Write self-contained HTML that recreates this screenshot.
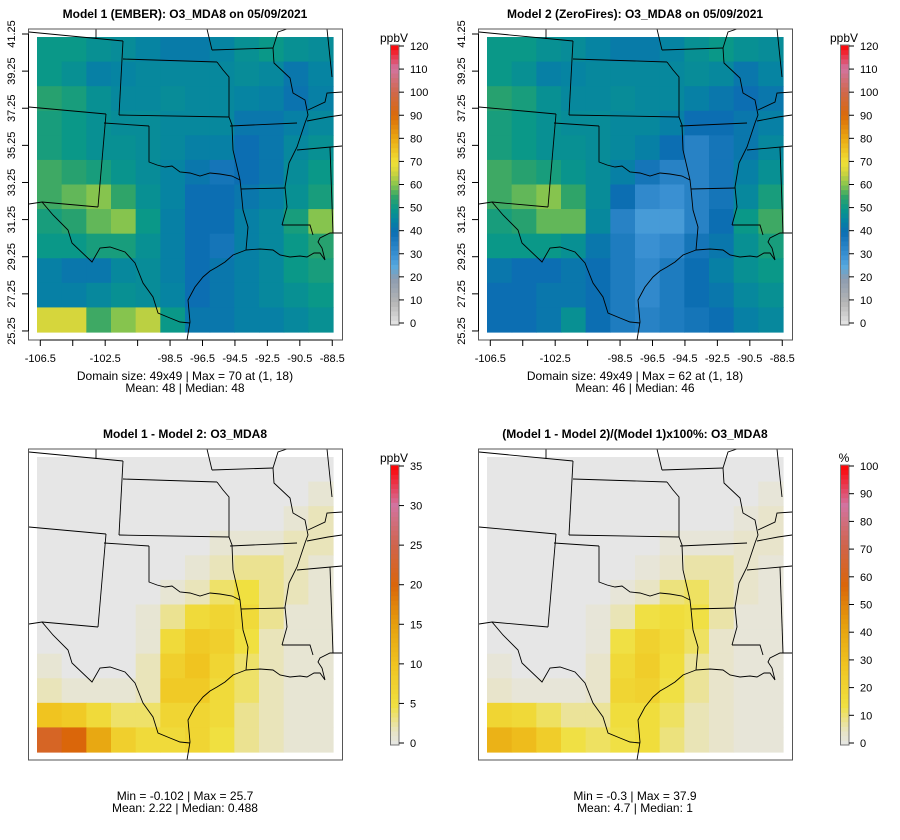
<!DOCTYPE html>
<html><head><meta charset="utf-8">
<style>
html,body{margin:0;padding:0;background:#fff;}
svg{display:block;font-family:"Liberation Sans",sans-serif;}
</style></head>
<body>
<svg id="chart" width="900" height="840" viewBox="0 0 900 840"></svg>
<script>
// ---- data (12x12 coarse grids, rows north->south, cols west->east) ----
const lonTicks = [-106.5,-104.5,-102.5,-100.5,-98.5,-96.5,-94.5,-92.5,-90.5,-88.5];
const lonLabels = ["-106.5","","-102.5","","-98.5","-96.5","-94.5","-92.5","-90.5","-88.5"];
const latTicks = [41.25,39.25,37.25,35.25,33.25,31.25,29.25,27.25,25.25];
const ppbTicks = [0,10,20,30,40,50,60,70,80,90,100,110,120];
const diffTicks = [0,5,10,15,20,25,30,35];
const pctTicks = [0,10,20,30,40,50,60,70,80,90,100];
const model1 = [
[50,50,48,47,45,43,43,45,48,50,48,47],
[50,48,44,45,46,46,46,46,47,46,42,45],
[54,52,48,46,46,47,46,46,45,44,41,44],
[52,50,48,47,47,46,46,46,42,42,44,46],
[52,50,48,48,47,46,44,44,40,42,46,48],
[56,54,52,49,47,45,42,38,40,42,47,50],
[56,58,60,55,48,45,40,40,42,44,48,52],
[52,54,58,60,50,44,40,40,44,46,52,60],
[50,50,52,52,48,44,40,38,44,46,50,54],
[44,42,42,46,47,44,40,42,44,46,50,52],
[44,44,46,48,47,45,40,42,44,46,48,50],
[66,66,56,60,64,50,42,42,44,44,46,48]];
const model2 = [
[50,50,48,47,45,43,43,45,48,50,48,47],
[50,48,44,45,46,46,46,46,47,46,42,45],
[54,52,48,46,46,47,46,46,44,42,40,42],
[52,50,48,47,47,46,46,44,40,40,42,44],
[52,50,48,48,47,46,44,40,34,38,42,46],
[56,54,52,49,47,44,38,34,34,38,44,48],
[56,58,60,55,47,40,32,30,34,38,46,52],
[52,54,58,58,46,34,28,28,34,40,50,56],
[50,50,50,48,42,36,30,32,38,42,48,52],
[42,40,40,42,40,36,32,36,40,44,48,50],
[40,40,42,42,40,36,32,36,40,42,46,48],
[40,40,42,48,40,36,34,36,38,40,44,46]];
const diffAbs = [
[0,0,0,0,0,0,0,0,0,0,0,0],
[0,0,0,0,0,0,0,0,0,0,0,1],
[0,0,0,0,0,0,0,0,0,0,1,2],
[0,0,0,0,0,0,0,1,1,1,2,2],
[0,0,0,0,0,0,1,2,3,3,2,1],
[0,0,0,0,0,1,2,4,5,3,2,1],
[0,0,0,0,1,3,6,7,6,3,1,1],
[0,0,0,0,1,6,9,8,5,2,1,1],
[1,0,0,0,2,8,10,7,4,2,1,1],
[2,1,1,1,2,9,9,6,4,2,1,1],
[10,9,6,4,4,7,7,6,3,2,1,1],
[22,20,14,8,6,6,7,5,3,2,1,1]];
const diffPct = [
[0,0,0,0,0,0,0,0,0,0,0,0],
[0,0,0,0,0,0,0,0,0,0,0,2],
[0,0,0,0,0,0,0,0,0,0,2,4],
[0,0,0,0,0,0,0,2,2,2,4,4],
[0,0,0,0,0,0,2,4,7,7,4,2],
[0,0,0,0,0,2,5,10,12,7,4,2],
[0,0,0,0,2,6,14,16,14,7,2,2],
[0,0,0,0,2,14,22,18,12,4,2,2],
[2,0,0,0,4,18,24,16,8,4,2,2],
[4,2,2,2,4,20,22,14,8,4,2,2],
[20,18,12,8,8,16,16,12,6,4,2,2],
[36,32,24,14,12,14,16,10,6,4,2,2]];

// ---- helpers ----
const NS="http://www.w3.org/2000/svg";
const svg=document.getElementById('chart');
function mk(tag,attrs,parent){const e=document.createElementNS(NS,tag);for(const k in attrs)e.setAttribute(k,attrs[k]);(parent||svg).appendChild(e);return e;}
function hex(h){return [parseInt(h.slice(1,3),16),parseInt(h.slice(3,5),16),parseInt(h.slice(5,7),16)];}
function ramp(stops){return function(t){t=Math.max(0,Math.min(1,t));for(let i=1;i<stops.length;i++){if(t<=stops[i][0]){const a=stops[i-1],b=stops[i];const f=(t-a[0])/(b[0]-a[0]);const ca=hex(a[1]),cb=hex(b[1]);return 'rgb('+ca.map((v,j)=>Math.round(v+(cb[j]-v)*f)).join(',')+')';}}return stops[stops.length-1][1];};}
const ppbRamp=ramp([[0,'#e6e6e6'],[0.083,'#b4b4b4'],[0.167,'#8c9cb0'],[0.21,'#58aade'],[0.25,'#3a90d2'],[0.333,'#0c6eb2'],[0.375,'#0684a2'],[0.417,'#0a9888'],[0.46,'#30a468'],[0.5,'#86c44e'],[0.55,'#d6d63c'],[0.583,'#f0e036'],[0.667,'#eaa812'],[0.75,'#da6a0a'],[0.833,'#d0684c'],[0.917,'#d274a0'],[1,'#ff0000']]);
const diffRamp=ramp([[0,'#e6e6e6'],[0.05,'#e8e4c4'],[0.143,'#f0e040'],[0.286,'#f0c420'],[0.43,'#e6a00e'],[0.571,'#da660a'],[0.714,'#d0644c'],[0.857,'#d274a0'],[1,'#ff0000']]);

const X0=40.3, PXDEG=16.22, Y0=34, PYDEG=18.56;
function lonX(l){return X0+(l+106.5)*PXDEG;}
function latY(l){return Y0+(41.25-l)*PYDEG;}
const DX0=37, DX1=333, DY0=37, DY1=332;

const borders=[
"29,32 123,41","96,29 96,39","123,41 119,115","123,59 217,62","119,115 229,117",
"29,107 106,114","106,114 98,207","104,123 149,126","149,126 149,162 157,165 165,167 172,166 180,172 190,173 200,176 210,173 220,174 232,176 240,180",
"217,62 223,70 229,77 229,117 232,125 233,150 240,180","212,50 273,48","207,29 212,50","273,48 278,32 287,29",
"273,48 274,63 290,78 293,93 305,100 308,115 305,123 302,132 297,147 289,163 285,187 287,207 282,225",
"230,126 297,123","241,189 285,188","240,180 241,189 243,210 248,227 246,250","282,225 310,225 313,235",
"330,147 333,233","297,150 342,146","307,121 328,117 342,115","327,29 332,77","308,110 325,102 327,93 342,92",
"246,250 260,249 273,250 280,255 290,257 300,256 307,257 314,253 320,253 325,260 322,248 318,242 320,238 330,233 342,233",
"246,250 233,255 225,262 217,267 210,271 203,277 195,287 188,300 190,322 187,340",
"29,204 42,202 53,215 68,230 72,243 92,262 100,248 110,247 125,252 135,263 143,283 153,297 158,313 170,318 180,322 190,323",
"42,202 98,207"];

function panel(ox,oy,name,title,grid,colorFn,vmax,ticks,unit,stats,showAxes){
  const g=mk('g',{transform:`translate(${ox},${oy})`});
  
  
  const t=mk('text',{x:185,y:18,'text-anchor':'middle','font-size':'12','font-weight':'bold',fill:'#000'},g);
  t.textContent=title;
  
  
  const rows=grid.length, cols=grid[0].length;
  const cw=(DX1-DX0)/cols, ch=(DY1-DY0)/rows;
  const cells=mk('g',{},g);
  
  
  grid.forEach((row,r)=>row.forEach((v,c)=>{
    const rc=mk('rect',{x:(DX0+c*cw).toFixed(2),y:(DY0+r*ch).toFixed(2),width:(cw+0.6).toFixed(2),height:(ch+0.6).toFixed(2),fill:colorFn(v/vmax)},cells);
    
    
  }));
  const clipId='clip'+name;
  const cp=mk('clipPath',{id:clipId},g);mk('rect',{x:28.5,y:29,width:314,height:311},cp);
  const bl=mk('g',{'clip-path':`url(#${clipId})`,fill:'none',stroke:'#000','stroke-width':'0.9'},g);
  
  
  borders.forEach(p=>mk('polyline',{points:p},bl));
  const fr=mk('rect',{x:28.5,y:29,width:314,height:311,fill:'none',stroke:'#555','stroke-width':'1'},g);
  
  
  if(showAxes){
    const xa=mk('g',{},g);
    
    
    mk('line',{x1:lonX(lonTicks[0]),x2:lonX(lonTicks[lonTicks.length-1]),y1:340,y2:340,stroke:'#000'},xa);
    lonTicks.forEach((l,i)=>{const x=lonX(l);mk('line',{x1:x,x2:x,y1:340,y2:346,stroke:'#000'},xa);
      if(lonLabels[i]){const tx=mk('text',{x:x,y:362,'text-anchor':'middle','font-size':'11',fill:'#000'},xa);tx.textContent=lonLabels[i];}});
    const ya=mk('g',{},g);
    
    
    mk('line',{x1:28.5,x2:28.5,y1:latY(latTicks[0]),y2:latY(latTicks[latTicks.length-1]),stroke:'#000'},ya);
    latTicks.forEach(l=>{const y=latY(l);mk('line',{x1:22,x2:28.5,y1:y,y2:y,stroke:'#000'},ya);
      const tx=mk('text',{x:0,y:0,transform:`translate(15,${y}) rotate(-90)`,'text-anchor':'middle','font-size':'11',fill:'#000'},ya);tx.textContent=l.toFixed(2);});
  }
  const cb=mk('g',{},g);
  
  
  const cbTop=45, cbBot=325, n=60;
  for(let i=0;i<n;i++){const y=cbBot-(i+1)*(cbBot-cbTop)/n;mk('rect',{x:390,y:y.toFixed(2),width:9,height:((cbBot-cbTop)/n+0.5).toFixed(2),fill:colorFn((i+0.5)/n)},cb);}
  mk('rect',{x:390.5,y:cbTop,width:8.5,height:cbBot-cbTop,fill:'none',stroke:'#777','stroke-width':'1'},cb);
  ticks.forEach(v=>{const y=323-(v/vmax)*(323-46);mk('line',{x1:399,x2:404,y1:y,y2:y,stroke:'#000'},cb);
    const tx=mk('text',{x:410,y:y+4,'font-size':'11',fill:'#000'},cb);tx.textContent=v;});
  const ut=mk('text',{x:394,y:42,'text-anchor':'middle','font-size':'12',fill:'#000'},cb);ut.textContent=unit;
  
  
  stats.forEach((s,i)=>{const tx=mk('text',{x:185,y:380+i*12,'text-anchor':'middle','font-size':'12',fill:'#000'},g);tx.textContent=s;
    
    });
}
panel(0,0,'panel-model1','Model 1 (EMBER): O3_MDA8 on 05/09/2021',model1,ppbRamp,120,ppbTicks,'ppbV',['Domain size: 49x49 | Max = 70 at (1, 18)','Mean: 48 |  Median: 48'],true);
panel(450,0,'panel-model2','Model 2 (ZeroFires): O3_MDA8 on 05/09/2021',model2,ppbRamp,120,ppbTicks,'ppbV',['Domain size: 49x49 | Max = 62 at (1, 18)','Mean: 46 |  Median: 46'],true);
panel(0,420,'panel-diff','Model 1 - Model 2: O3_MDA8',diffAbs,diffRamp,35,diffTicks,'ppbV',['Min = -0.102 | Max = 25.7','Mean: 2.22 |  Median: 0.488'],false);
panel(450,420,'panel-pct','(Model 1 - Model 2)/(Model 1)x100%: O3_MDA8',diffPct,diffRamp,100,pctTicks,'%',['Min = -0.3 | Max = 37.9','Mean: 4.7 |  Median: 1'],false);
</script>
</body></html>
